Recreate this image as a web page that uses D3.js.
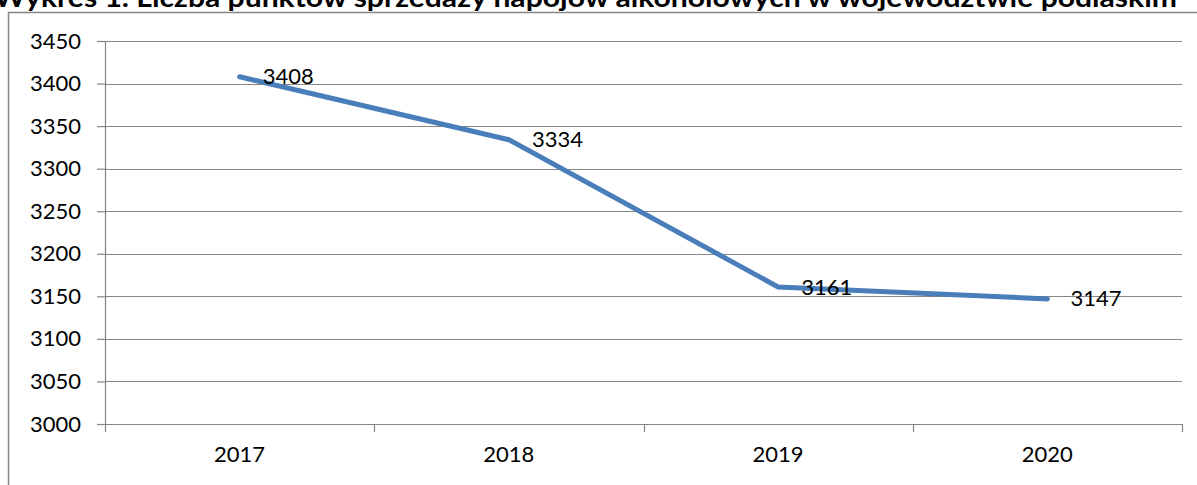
<!DOCTYPE html>
<html>
<head>
<meta charset="utf-8">
<script src="https://cdn.jsdelivr.net/npm/d3@7"></script>
<style>
  html, body { margin: 0; padding: 0; background: #fff; overflow: hidden; }
  svg { display: block; font-family: Lato, "Open Sans", sans-serif; }
</style>
</head>
<body>
<div id="chart"></div>
<script>
// dane z wykresu
const years = ['2017', '2018', '2019', '2020'];
const values = [3408, 3334, 3161, 3147];
const yTicks = [3000, 3050, 3100, 3150, 3200, 3250, 3300, 3350, 3400, 3450];
const title = 'Wykres 1. Liczba punktów sprzedaży napojów alkoholowych w województwie podlaskim';

const W = 1197, H = 485;
const m = { top: 41, right: 15, bottom: 61, left: 105 };
const w = W - m.left - m.right, h = H - m.top - m.bottom;

const svg = d3.select('#chart').append('svg').attr('width', W).attr('height', H);

// ramka wykresu
svg.append('rect').attr('x', 8.5).attr('y', 12.5).attr('width', W).attr('height', H)
  .attr('fill', 'none').attr('stroke', '#868686').attr('stroke-width', 1.5);

// tytuł (ucięty u góry)
svg.append('text').attr('x', -6).attr('y', 7)
  .attr('font-weight', 700).attr('font-size', '26px').attr('fill', '#000')
  .attr('textLength', 1183).attr('lengthAdjust', 'spacingAndGlyphs')
  .text(title);

const g = svg.append('g').attr('transform', `translate(${m.left},${m.top})`);

const x = d3.scaleBand().domain(years).range([0, w]);
const y = d3.scaleLinear().domain([3000, 3450]).range([h, 0]);

// siatka
g.selectAll('.grid').data(yTicks).join('line')
  .attr('x1', 0).attr('x2', w)
  .attr('y1', d => Math.round(y(d)) + 0.5).attr('y2', d => Math.round(y(d)) + 0.5)
  .attr('stroke', '#868686').attr('stroke-width', 1.2);

// oś Y
g.append('g')
  .call(d3.axisLeft(y).tickValues(yTicks).tickSize(8).tickPadding(16).tickFormat(d3.format('d')))
  .call(a => a.select('.domain').attr('stroke', '#868686').attr('stroke-width', 1.2).attr('d', `M0.5,0V${h}`))
  .call(a => a.selectAll('.tick line').attr('stroke', '#868686').attr('stroke-width', 1.2))
  .selectAll('text').attr('fill', '#000').attr('font-size', '22px').attr('font-family', 'Lato');

// oś X - znaczniki na granicach kategorii
const xAxis = g.append('g').attr('transform', `translate(0,${h})`);
xAxis.append('line').attr('x1', 0).attr('x2', w).attr('y1', 0.5).attr('y2', 0.5)
  .attr('stroke', '#868686').attr('stroke-width', 1.2);
const bounds = years.map(d => x(d)).concat([w]);
xAxis.selectAll('.xt').data(bounds).join('line')
  .attr('x1', d => Math.round(d) + 0.5).attr('x2', d => Math.round(d) + 0.5)
  .attr('y1', 0).attr('y2', 8)
  .attr('stroke', '#868686').attr('stroke-width', 1.2);
xAxis.selectAll('.xl').data(years).join('text')
  .attr('x', d => x(d) + x.bandwidth() / 2).attr('y', 38)
  .attr('text-anchor', 'middle').attr('font-size', '22px').attr('fill', '#000')
  .text(d => d);

// linia
const pts = years.map((d, i) => ({ year: d, value: values[i] }));
g.append('path').datum(pts)
  .attr('fill', 'none').attr('stroke', '#4a7ebb').attr('stroke-width', 5)
  .attr('stroke-linecap', 'round').attr('stroke-linejoin', 'round')
  .attr('d', d3.line().x(d => x(d.year) + x.bandwidth() / 2).y(d => y(d.value)));

// etykiety wartości
g.selectAll('.vl').data(pts).join('text')
  .attr('x', d => x(d.year) + x.bandwidth() / 2 + 23)
  .attr('y', d => y(d.value) + 2)
  .attr('dominant-baseline', 'middle')
  .attr('font-size', '22px').attr('fill', '#000')
  .text(d => d.value);
</script>
</body>
</html>
